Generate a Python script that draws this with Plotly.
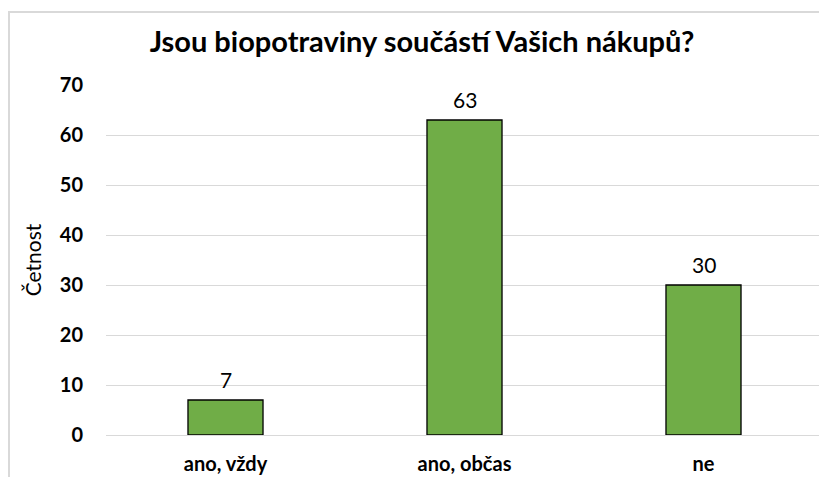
import plotly.graph_objects as go

categories = ["ano, vždy", "ano, občas", "ne"]
values = [7, 63, 30]
y_ticks = [0, 10, 20, 30, 40, 50, 60, 70]

# page has an 8px body margin, so the figure is 8px smaller and offset
W, H = 819, 469
L, R, T, B = 98, 4, 77, 42
pw, ph = W - L - R, H - T - B

fig = go.Figure(go.Bar(
    x=categories, y=values,
    marker=dict(color="#70AD47", line=dict(color="#000000", width=1.3)),
    cliponaxis=False,
))

for c, v in zip(categories, values):
    fig.add_annotation(x=c, y=v, text=str(v), showarrow=False,
                       yanchor="middle", yshift=21,
                       font=dict(family="Lato", size=21, color="#000000"))

fig.update_layout(
    width=W, height=H,
    margin=dict(l=L, r=R, t=T, b=B, autoexpand=False),
    paper_bgcolor="white", plot_bgcolor="white",
    bargap=0.686,
    showlegend=False,
    title=dict(text="<b>Jsou biopotraviny součástí Vašich nákupů?</b>",
               font=dict(family="Lato", size=29, color="#000000"),
               x=414 / W, xanchor="center", y=1 - 34 / H, yanchor="middle"),
    font=dict(family="Lato", color="#000000"),
)
fig.update_yaxes(
    range=[0, 70], tickvals=y_ticks, showgrid=True, gridcolor="#D9D9D9", gridwidth=1.3,
    zeroline=False, showline=False, automargin=False,
    tickfont=dict(family="Lato", size=20, color="#000000", weight="bold"),
    ticklabelstandoff=22,
    title=dict(text="Četnost", font=dict(family="Lato", size=21, color="#000000"), standoff=12),
)
fig.update_xaxes(
    showline=True, linecolor="#D9D9D9", linewidth=1.3, automargin=False,
    tickfont=dict(family="Lato", size=20, color="#000000", weight="bold"),
    ticklabelstandoff=11,
)
fig.add_shape(type="rect", xref="paper", yref="paper",
              x0=(1 - L) / pw, x1=1.05, y0=-0.3, y1=1 + (T - 4) / ph,
              line=dict(color="#D9D9D9", width=2), fillcolor="rgba(0,0,0,0)", layer="below")

fig.write_html("out.html")
